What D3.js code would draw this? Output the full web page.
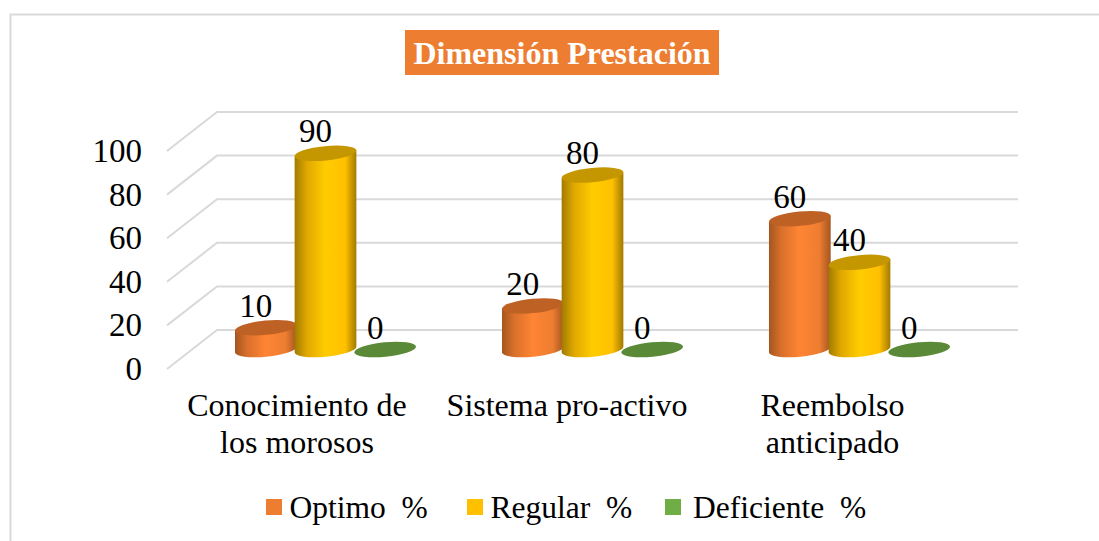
<!DOCTYPE html>
<html><head><meta charset="utf-8">
<script src="https://cdn.jsdelivr.net/npm/d3@7"></script>
<style>html,body{margin:0;padding:0;background:#fff}svg{display:block}text{font-family:"Liberation Serif",serif;fill:#000}</style>
</head><body><svg id="c" width="1099" height="541"></svg>
<script>
const categories = [["Conocimiento de","los morosos"],["Sistema pro-activo"],["Reembolso","anticipado"]];
const seriesNames = ["Optimo  %","Regular  %","Deficiente  %"];
const optimo = [10,20,60];
const regular = [90,80,40];
const deficiente = [0,0,0];
const yTicks = [0,20,40,60,80,100];
const titleText = "Dimensión Prestación";
const allSeries = [optimo,regular,deficiente];
const palette = [
 {key:"o",legend:"#ed7d31",edge:"#a4561f",soft:"#d9702b",mid:"#ff8533",top:"#bd6125"},
 {key:"r",legend:"#ffc000",edge:"#a17a00",soft:"#e0a800",mid:"#ffcc00",top:"#c49600"},
 {key:"d",legend:"#70ad47",edge:"#4f7a32",soft:"#609a3c",mid:"#70ad47",top:"#5a8a38"}];

const svg=d3.select("#c");
const depthX=50, depthY=39;
const x0=d3.scaleBand().domain(d3.range(categories.length)).range([167,968]);
const xs=d3.scaleBand().domain(d3.range(3)).range([-89.5,89.5]);
const y=d3.scaleLinear().domain([0,100]).range([369,151]);
const RX=31, RY=7.2, ANG=-5.5;
const rad=ANG*Math.PI/180;

// frame
svg.append("path").attr("d","M10.5,541V14.5H1099").attr("fill","none").attr("stroke","#d9d9d9").attr("stroke-width",2);

// defs
const defs=svg.append("defs");
palette.forEach(p=>{
 const g=defs.append("linearGradient").attr("id","g"+p.key).attr("x1",0).attr("x2",1).attr("y1",0).attr("y2",0);
 [[0,p.edge],[.2,p.soft],[.5,p.mid],[.82,p.legend],[1,p.edge]].forEach(s=>g.append("stop").attr("offset",s[0]).attr("stop-color",s[1]));
});

// walls gridlines
const grid=svg.append("g").attr("fill","none").attr("stroke","#d9d9d9").attr("stroke-width",2);
yTicks.forEach(t=>{
 const yy=y(t);
 grid.append("path").attr("d",`M167,${yy}L${167+depthX},${yy-depthY}H${968+depthX}`);
});

// y labels
const axisG=svg.append("g").attr("transform","translate(142,0)")
  .call(d3.axisLeft(y).tickValues(yTicks).tickSize(0).tickPadding(0));
axisG.select(".domain").remove();
axisG.selectAll("text").style("font-size","33px").style("font-family","Liberation Serif").attr("fill","#000").attr("dy","0.32em");

// cylinders
const ex=RX*Math.cos(rad), ey=RX*Math.sin(rad);
categories.forEach((c,i)=>{
 allSeries.forEach((vals,s)=>{
  const v=vals[i], p=palette[s];
  const cx=x0(i)+x0.bandwidth()/2+xs(s)+xs.bandwidth()/2+depthX/2;
  const by=y(0)-depthY/2, ty=y(v)-depthY/2;
  const g=svg.append("g");
  if(v>0){
   g.append("path").attr("fill",`url(#g${p.key})`)
    .attr("d",`M${cx-ex},${ty-ey}L${cx-ex},${by-ey}A${RX},${RY} ${ANG} 0 0 ${cx+ex},${by+ey}L${cx+ex},${ty+ey}Z`);
  }
  g.append("ellipse").attr("cx",cx).attr("cy",ty).attr("rx",RX).attr("ry",RY)
   .attr("transform",`rotate(${ANG} ${cx} ${ty})`).attr("fill",p.top);
 });
});
// value labels
categories.forEach((c,i)=>{
 allSeries.forEach((vals,s)=>{
  const v=vals[i];
  const cx=x0(i)+x0.bandwidth()/2+xs(s)+xs.bandwidth()/2+depthX/2;
  const ty=y(v)-depthY/2;
  svg.append("text").attr("x",cx-10).attr("y",ty-11).attr("text-anchor","middle")
   .style("font-size","33px").text(v);
 });
});

// category labels
const catShift=[-3.5,-0.5,-2];
categories.forEach((c,i)=>{
 const cx=x0(i)+x0.bandwidth()/2+catShift[i];
 c.forEach((line,j)=>{
  svg.append("text").attr("x",cx).attr("y",416+j*37).attr("text-anchor","middle").style("font-size","32px").text(line);
 });
});

// title
svg.append("rect").attr("x",405).attr("y",30).attr("width",314).attr("height",45).attr("fill","#ed7d31");
svg.append("text").attr("x",562).attr("y",64).attr("text-anchor","middle").style("font-size","32px").style("font-weight","bold").style("fill","#fff").text(titleText);

// legend
const lx=[266,467,665];
const ltx=[289.5,490.5,693];
seriesNames.forEach((n,i)=>{
 svg.append("rect").attr("x",lx[i]).attr("y",499).attr("width",16).attr("height",16).attr("fill",palette[i].legend);
 svg.append("text").attr("x",ltx[i]).attr("y",518).attr("xml:space","preserve").style("white-space","pre").style("font-size","31.5px").text(n);
});
</script></body></html>
